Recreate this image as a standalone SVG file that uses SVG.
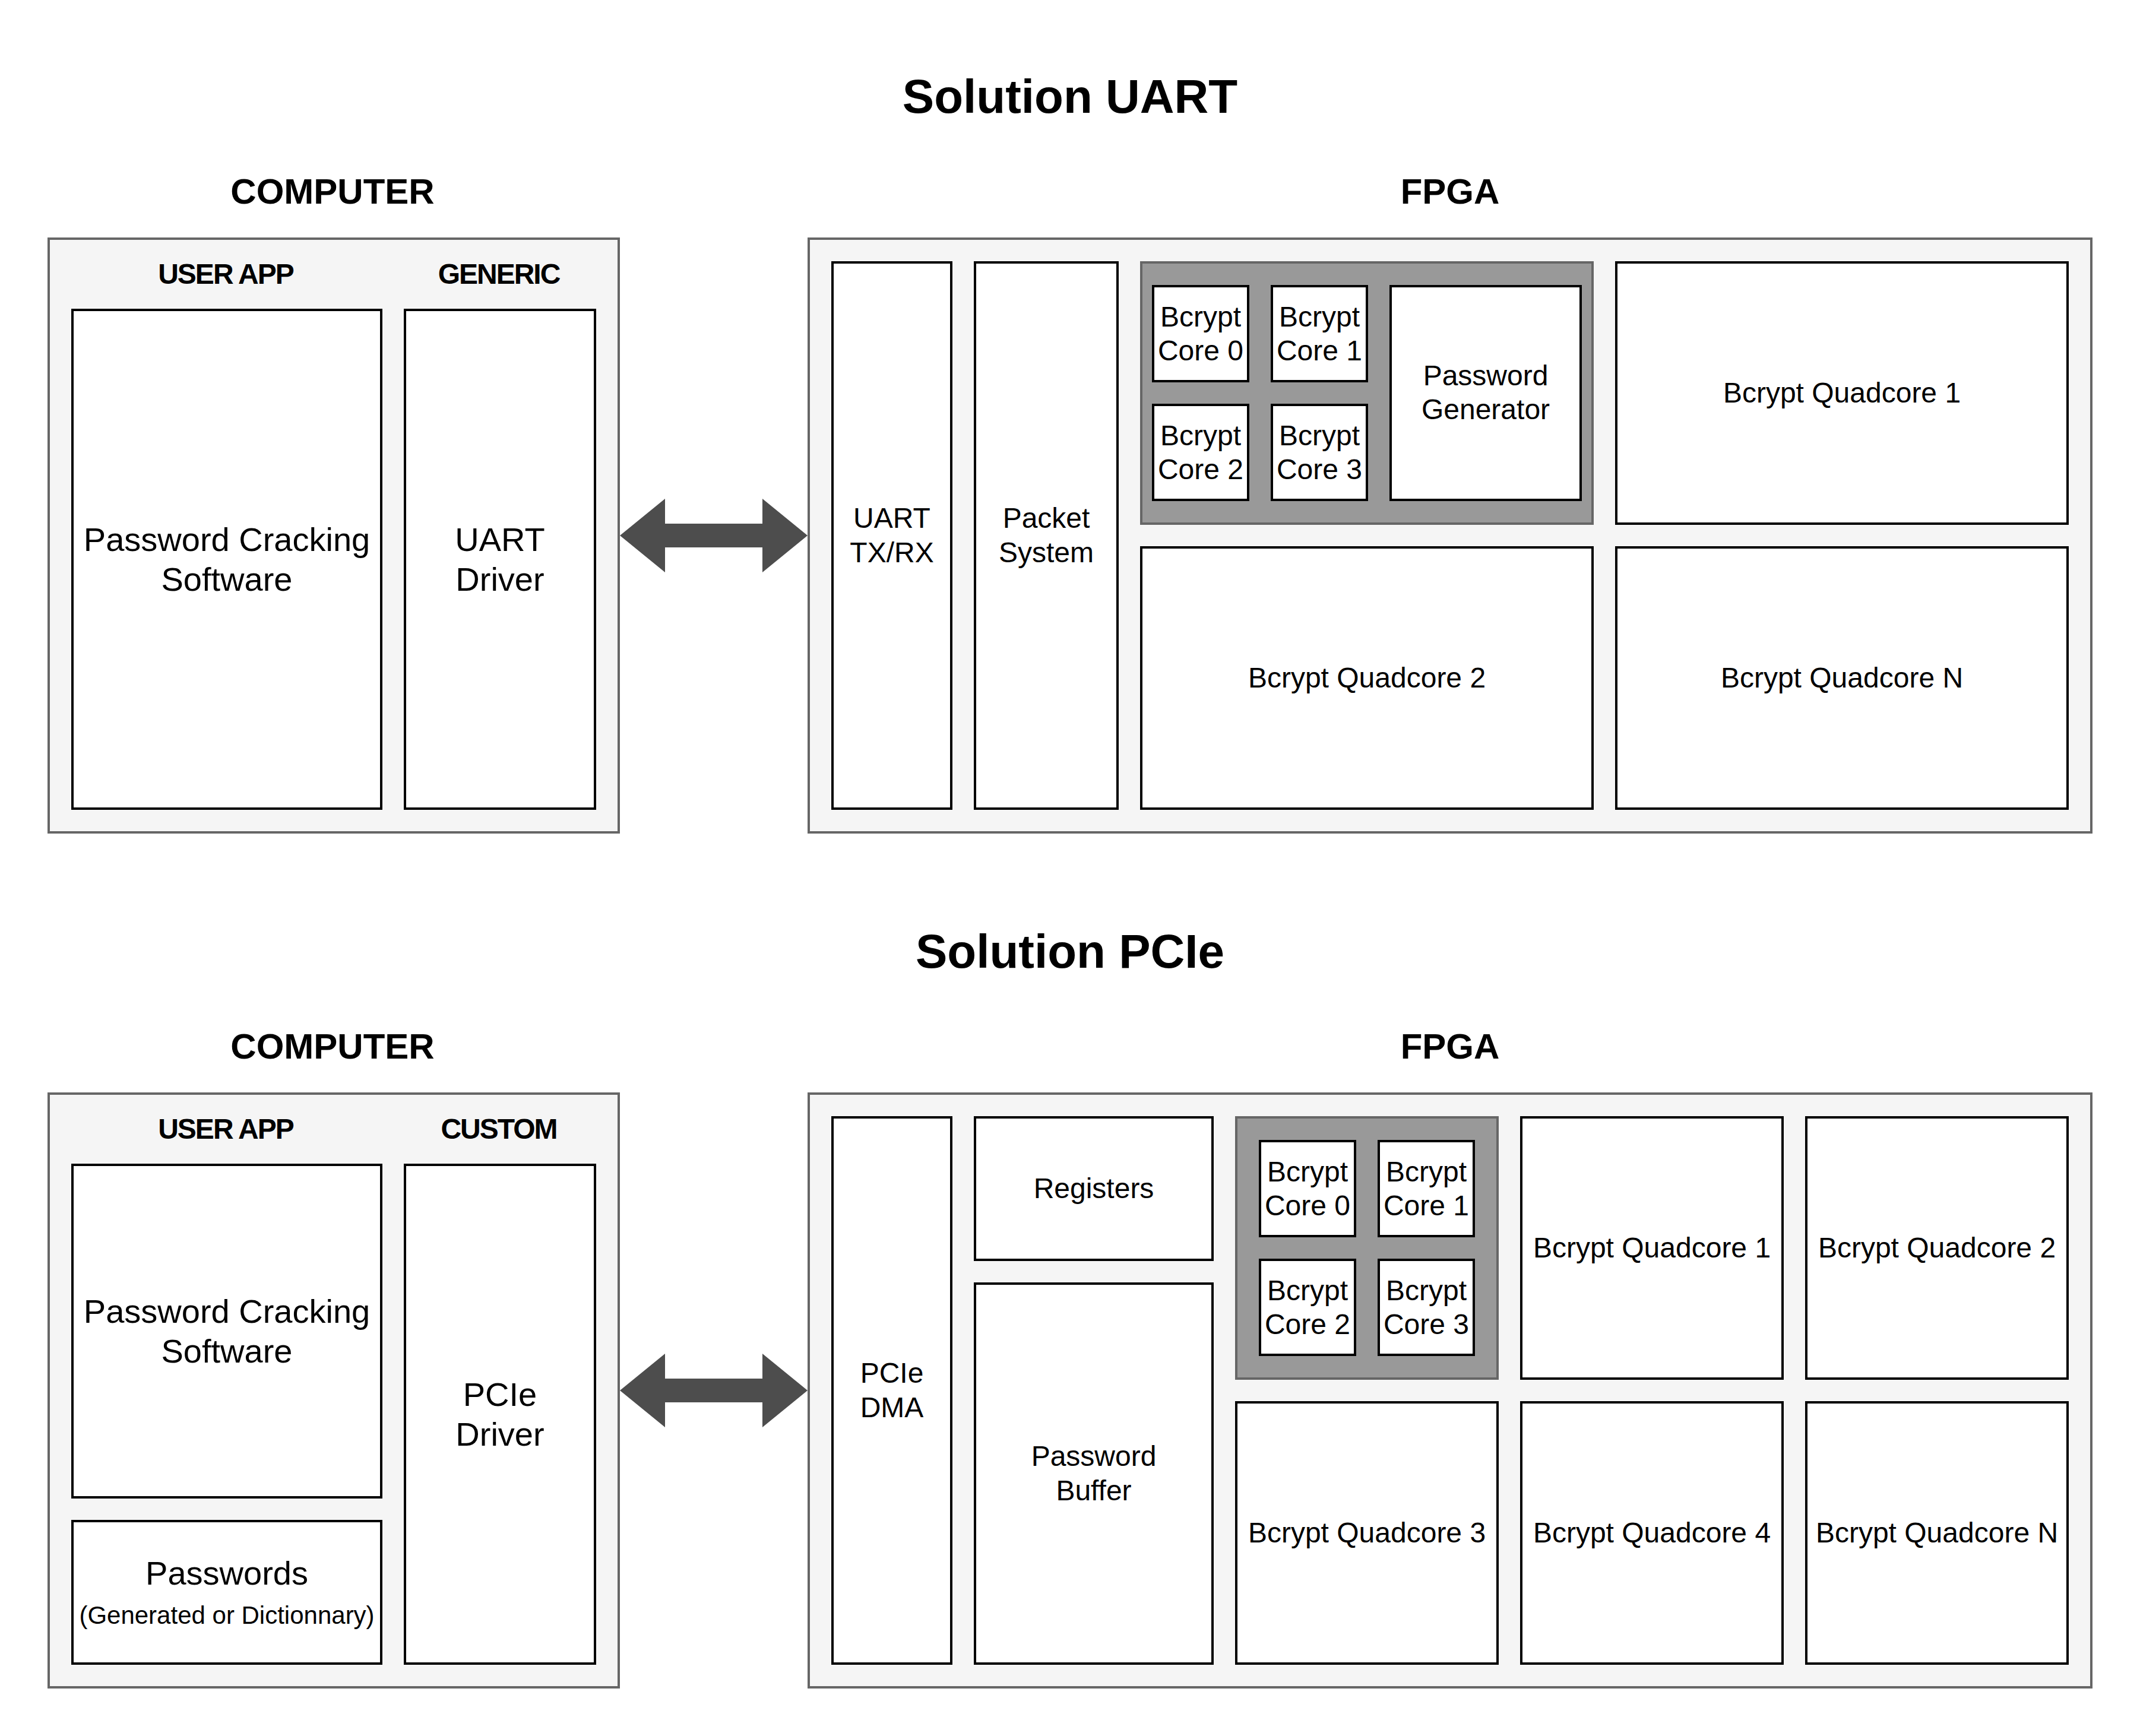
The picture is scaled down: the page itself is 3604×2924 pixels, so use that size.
<svg xmlns="http://www.w3.org/2000/svg" width="3604" height="2924" viewBox="0 0 3604 2924">
  <style>
    .outer { fill: #f5f5f5; stroke: #666666; stroke-width: 4; }
    .box { fill: #ffffff; stroke: #000000; stroke-width: 4; }
    .quad { fill: #999999; stroke: #666666; stroke-width: 4; }
    .link { fill: #4d4d4d; stroke: none; }
    text { font-family: "Liberation Sans", Arial, Helvetica, sans-serif; fill: #000000; text-anchor: middle; }
    .title { font-size: 80px; font-weight: bold; }
    .head { font-size: 60px; font-weight: bold; }
    .sub { font-size: 48px; font-weight: bold; letter-spacing: -2px; }
    .big { font-size: 56px; }
    .mid { font-size: 48px; }
    .small { font-size: 42px; }
  </style>
  <defs>
    <polygon id="dblArrow" points="1044,0 1120,-62 1120,-20 1284,-20 1284,-62 1360,0 1284,62 1284,20 1120,20 1120,62"/>
  </defs>

  <rect width="3604" height="2924" fill="#ffffff"/>

  <!-- ===== Solution UART ===== -->
  <g id="uart-section">
    <text class="title" x="1802" y="190">Solution UART</text>

    <g id="uart-computer">
      <text class="head" x="560" y="343">COMPUTER</text>
      <rect class="outer" x="82" y="402" width="960" height="1000"/>
      <text class="sub" x="380" y="478">USER APP</text>
      <text class="sub" x="840" y="478">GENERIC</text>
      <g id="uart-cracking-sw">
        <rect class="box" x="122" y="522" width="520" height="840"/>
        <text class="big" x="382" y="928">Password Cracking</text>
        <text class="big" x="382" y="995">Software</text>
      </g>
      <g id="uart-driver">
        <rect class="box" x="682" y="522" width="320" height="840"/>
        <text class="big" x="842" y="928">UART</text>
        <text class="big" x="842" y="995">Driver</text>
      </g>
    </g>

    <g id="uart-fpga">
      <text class="head" x="2442" y="343">FPGA</text>
      <rect class="outer" x="1362" y="402" width="2160" height="1000"/>
      <g id="uart-txrx">
        <rect class="box" x="1402" y="442" width="200" height="920"/>
        <text class="mid" x="1502" y="889">UART</text>
        <text class="mid" x="1502" y="947">TX/RX</text>
      </g>
      <g id="uart-packet">
        <rect class="box" x="1642" y="442" width="240" height="920"/>
        <text class="mid" x="1762" y="889">Packet</text>
        <text class="mid" x="1762" y="947">System</text>
      </g>
      <g id="uart-quadcore-0">
        <rect class="quad" x="1922" y="442" width="760" height="440"/>
        <g id="uart-core-0">
          <rect class="box" x="1942" y="482" width="160" height="160"/>
          <text class="mid" x="2022" y="550">Bcrypt</text>
          <text class="mid" x="2022" y="607">Core 0</text>
        </g>
        <g id="uart-core-1">
          <rect class="box" x="2142" y="482" width="160" height="160"/>
          <text class="mid" x="2222" y="550">Bcrypt</text>
          <text class="mid" x="2222" y="607">Core 1</text>
        </g>
        <g id="uart-core-2">
          <rect class="box" x="1942" y="682" width="160" height="160"/>
          <text class="mid" x="2022" y="750">Bcrypt</text>
          <text class="mid" x="2022" y="807">Core 2</text>
        </g>
        <g id="uart-core-3">
          <rect class="box" x="2142" y="682" width="160" height="160"/>
          <text class="mid" x="2222" y="750">Bcrypt</text>
          <text class="mid" x="2222" y="807">Core 3</text>
        </g>
        <g id="uart-pwgen">
          <rect class="box" x="2342" y="482" width="320" height="360"/>
          <text class="mid" x="2502" y="649">Password</text>
          <text class="mid" x="2502" y="706">Generator</text>
        </g>
      </g>
      <g id="uart-quadcore-1">
        <rect class="box" x="2722" y="442" width="760" height="440"/>
        <text class="mid" x="3102" y="678">Bcrypt Quadcore 1</text>
      </g>
      <g id="uart-quadcore-2">
        <rect class="box" x="1922" y="922" width="760" height="440"/>
        <text class="mid" x="2302" y="1158">Bcrypt Quadcore 2</text>
      </g>
      <g id="uart-quadcore-n">
        <rect class="box" x="2722" y="922" width="760" height="440"/>
        <text class="mid" x="3102" y="1158">Bcrypt Quadcore N</text>
      </g>
    </g>
  </g>

  <!-- ===== Solution PCIe ===== -->
  <g id="pcie-section">
    <text class="title" x="1802" y="1630">Solution PCIe</text>

    <g id="pcie-computer">
      <text class="head" x="560" y="1783">COMPUTER</text>
      <rect class="outer" x="82" y="1842" width="960" height="1000"/>
      <text class="sub" x="380" y="1918">USER APP</text>
      <text class="sub" x="840" y="1918">CUSTOM</text>
      <g id="pcie-cracking-sw">
        <rect class="box" x="122" y="1962" width="520" height="560"/>
        <text class="big" x="382" y="2228">Password Cracking</text>
        <text class="big" x="382" y="2295">Software</text>
      </g>
      <g id="pcie-passwords">
        <rect class="box" x="122" y="2562" width="520" height="240"/>
        <text class="big" x="382" y="2669">Passwords</text>
        <text class="small" x="382" y="2735">(Generated or Dictionnary)</text>
      </g>
      <g id="pcie-driver">
        <rect class="box" x="682" y="1962" width="320" height="840"/>
        <text class="big" x="842" y="2368">PCIe</text>
        <text class="big" x="842" y="2435">Driver</text>
      </g>
    </g>

    <g id="pcie-fpga">
      <text class="head" x="2442" y="1783">FPGA</text>
      <rect class="outer" x="1362" y="1842" width="2160" height="1000"/>
      <g id="pcie-dma">
        <rect class="box" x="1402" y="1882" width="200" height="920"/>
        <text class="mid" x="1502" y="2329">PCIe</text>
        <text class="mid" x="1502" y="2387">DMA</text>
      </g>
      <g id="pcie-registers">
        <rect class="box" x="1642" y="1882" width="400" height="240"/>
        <text class="mid" x="1842" y="2018">Registers</text>
      </g>
      <g id="pcie-pwbuffer">
        <rect class="box" x="1642" y="2162" width="400" height="640"/>
        <text class="mid" x="1842" y="2469">Password</text>
        <text class="mid" x="1842" y="2527">Buffer</text>
      </g>
      <g id="pcie-quadcore-0">
        <rect class="quad" x="2082" y="1882" width="440" height="440"/>
        <g id="pcie-core-0">
          <rect class="box" x="2122" y="1922" width="160" height="160"/>
          <text class="mid" x="2202" y="1990">Bcrypt</text>
          <text class="mid" x="2202" y="2047">Core 0</text>
        </g>
        <g id="pcie-core-1">
          <rect class="box" x="2322" y="1922" width="160" height="160"/>
          <text class="mid" x="2402" y="1990">Bcrypt</text>
          <text class="mid" x="2402" y="2047">Core 1</text>
        </g>
        <g id="pcie-core-2">
          <rect class="box" x="2122" y="2122" width="160" height="160"/>
          <text class="mid" x="2202" y="2190">Bcrypt</text>
          <text class="mid" x="2202" y="2247">Core 2</text>
        </g>
        <g id="pcie-core-3">
          <rect class="box" x="2322" y="2122" width="160" height="160"/>
          <text class="mid" x="2402" y="2190">Bcrypt</text>
          <text class="mid" x="2402" y="2247">Core 3</text>
        </g>
      </g>
      <g id="pcie-quadcore-1">
        <rect class="box" x="2562" y="1882" width="440" height="440"/>
        <text class="mid" x="2782" y="2118">Bcrypt Quadcore 1</text>
      </g>
      <g id="pcie-quadcore-2">
        <rect class="box" x="3042" y="1882" width="440" height="440"/>
        <text class="mid" x="3262" y="2118">Bcrypt Quadcore 2</text>
      </g>
      <g id="pcie-quadcore-3">
        <rect class="box" x="2082" y="2362" width="440" height="440"/>
        <text class="mid" x="2302" y="2598">Bcrypt Quadcore 3</text>
      </g>
      <g id="pcie-quadcore-4">
        <rect class="box" x="2562" y="2362" width="440" height="440"/>
        <text class="mid" x="2782" y="2598">Bcrypt Quadcore 4</text>
      </g>
      <g id="pcie-quadcore-n">
        <rect class="box" x="3042" y="2362" width="440" height="440"/>
        <text class="mid" x="3262" y="2598">Bcrypt Quadcore N</text>
      </g>
    </g>
  </g>

  <!-- Host/FPGA links (bidirectional block arrows) -->
  <g id="connectors">
    <use href="#dblArrow" class="link" transform="translate(0,902)"/>
    <use href="#dblArrow" class="link" transform="translate(0,2342)"/>
  </g>
</svg>
